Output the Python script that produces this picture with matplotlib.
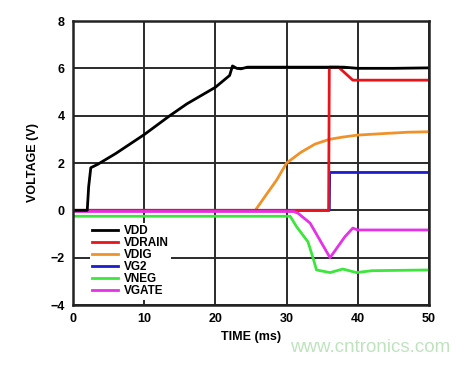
import matplotlib as mpl
mpl.use('Agg')
import matplotlib.pyplot as plt

plt.rcParams['font.family'] = ['Liberation Sans', 'DejaVu Sans']
plt.rcParams['font.weight'] = 'bold'

# 波形データ (時間 ms, 電圧 V)
vdd_t = [0, 2.0, 2.2, 2.5, 3.5, 6, 10, 13.6, 16, 20, 22, 22.4, 23, 23.6, 24.5, 30, 35, 38, 40, 45, 50]
vdd_v = [0, 0, 1.0, 1.8, 1.95, 2.4, 3.2, 4.0, 4.5, 5.2, 5.7, 6.1, 6.0, 5.98, 6.05, 6.05, 6.05, 6.05, 6.0, 6.0, 6.02]

vdrain_t = [0, 35.9, 36.0, 37.3, 39.3, 50]
vdrain_v = [0, 0, 6.05, 6.05, 5.5, 5.5]

vdig_t = [0, 25.6, 27, 28.6, 30, 32, 34, 36, 38, 40, 44, 47, 50]
vdig_v = [0, 0, 0.6, 1.28, 2.0, 2.45, 2.8, 3.0, 3.1, 3.18, 3.25, 3.3, 3.32]

vg2_t = [0, 36.0, 36.05, 50]
vg2_v = [0, 0, 1.6, 1.6]

vneg_t = [0, 30.5, 31.4, 33.0, 33.7, 34.2, 36.1, 37.9, 39.8, 42, 50]
vneg_v = [-0.25, -0.25, -0.69, -1.33, -2.0, -2.52, -2.63, -2.48, -2.63, -2.55, -2.52]

vgate_t = [0, 31.0, 31.6, 33.3, 36.1, 38.2, 39.3, 40, 50]
vgate_v = [-0.05, -0.05, -0.12, -0.54, -2.0, -1.11, -0.75, -0.83, -0.83]

labels = ['VDD', 'VDRAIN', 'VDIG', 'VG2', 'VNEG', 'VGATE']
colors = ['black', '#e8141c', '#f0922a', '#1c1ccc', '#3ce63c', '#e632e6']

fig = plt.figure(figsize=(4.72, 3.65), dpi=100)
ax = fig.add_axes([73/472, 60/365, 356/472, 284/365])

ax.grid(True, color='#2a2a2a', linewidth=1.4)
ax.set_axisbelow(True)

series = [(vdd_t, vdd_v), (vdrain_t, vdrain_v), (vdig_t, vdig_v),
          (vg2_t, vg2_v), (vneg_t, vneg_v), (vgate_t, vgate_v)]
# 描画順: 下から VNEG, VDIG, VG2, VDRAIN, VGATE, VDD
order = [4, 2, 3, 1, 5, 0]
handles = {}
for i in order:
    t, v = series[i]
    h, = ax.plot(t, v, color=colors[i], linewidth=2, label=labels[i])
    handles[i] = h

ax.set_xlim(0, 50)
ax.set_ylim(-4, 8)
ax.set_xticks([0, 10, 20, 30, 40, 50])
ax.set_yticks([-4, -2, 0, 2, 4, 6, 8])
ax.tick_params(length=0, labelsize=9, pad=6)
for s in ax.spines.values():
    s.set_linewidth(1.8)
    s.set_color('#222222')

ax.set_xlabel('TIME (ms)', fontsize=9, fontweight='bold', labelpad=4)
ax.set_ylabel('VOLTAGE (V)', fontsize=9, fontweight='bold', labelpad=8)

leg = ax.legend([handles[i] for i in range(6)], labels, loc='upper left',
                bbox_to_anchor=(0.03, 0.31), frameon=True, fancybox=False,
                edgecolor='none', facecolor='white', framealpha=1,
                prop={'weight': 'bold', 'size': 8.5}, labelspacing=0.0,
                handlelength=2.2, handletextpad=0.5, borderpad=0.2)

fig.text(0.955, 0.025, 'www.cntronics.com', color='#bfe3bf', fontsize=13.5,
         fontweight='normal', ha='right', va='bottom')

plt.savefig('out.png', dpi=100)
